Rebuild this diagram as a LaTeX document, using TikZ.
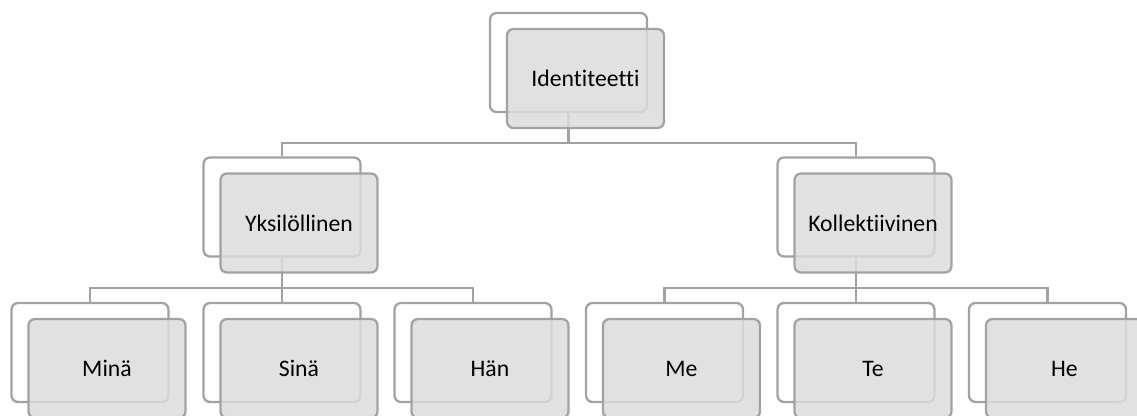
\documentclass[tikz,border=0pt]{standalone}
\usepackage{fontspec}
\setmainfont{Carlito}[RawFeature={-liga;-clig;-dlig}]
\usepackage{tikz}
\usetikzlibrary{calc,positioning}
\definecolor{frame}{HTML}{A2A2A2}
\definecolor{shade}{HTML}{DCDCDC}

\tikzset{
  backbox/.style={draw=frame,fill=white,line width=1.3pt,rounded corners=0.13cm,minimum width=3.14cm,minimum height=1.98cm,inner sep=0pt},
  frontbox/.style={draw=frame,fill=shade,fill opacity=0.85,text opacity=1,line width=1.3pt,rounded corners=0.13cm,minimum width=3.14cm,minimum height=1.98cm,inner sep=0pt,font=\fontsize{13.5}{16}\selectfont},
  link/.style={draw=frame,line width=1.3pt}
}

\begin{document}
\begin{tikzpicture}[x=0.02cm,y=-0.02cm]
  \useasboundingbox (0,0) rectangle (1137,416);
  % back frames
  \node[backbox] (identback) at (568.5,62.5) {};
  \node[backbox] (yksback) at (282,207) {};
  \node[backbox] (kollback) at (856,207) {};
  \node[backbox] (minaback) at (90,352.5) {};
  \node[backbox] (sinaback) at (282,352.5) {};
  \node[backbox] (hanback) at (473,352.5) {};
  \node[backbox] (meback) at (664.5,352.5) {};
  \node[backbox] (teback) at (856,352.5) {};
  \node[backbox] (heback) at (1047.5,352.5) {};
  % connectors
  \coordinate (busA) at (568.5,143);
  \coordinate (busB) at (282,288);
  \coordinate (busC) at (856,288);
  \draw[link] (identback.south) -- (busA);
  \draw[link] (yksback.north) |- (busA) -| (kollback.north);
  \draw[link] (yksback.south) -- (busB);
  \draw[link] (minaback.north) |- (busB) -| (hanback.north);
  \draw[link] (sinaback.north) -- (busB);
  \draw[link] (kollback.south) -- (busC);
  \draw[link] (meback.north) |- (busC) -| (heback.north);
  \draw[link] (teback.north) -- (busC);
  % front boxes
  \node[frontbox] (ident) at ($(identback)+(17,16)$) {Identiteetti};
  \node[frontbox] (yks) at ($(yksback)+(17,16)$) {Yksilöllinen};
  \node[frontbox] (koll) at ($(kollback)+(17,16)$) {Kollektiivinen};
  \node[frontbox] (mina) at ($(minaback)+(17,16)$) {Minä};
  \node[frontbox] (sina) at ($(sinaback)+(17,16)$) {Sinä};
  \node[frontbox] (han) at ($(hanback)+(17,16)$) {Hän};
  \node[frontbox] (me) at ($(meback)+(17,16)$) {Me};
  \node[frontbox] (te) at ($(teback)+(17,16)$) {Te};
  \node[frontbox] (he) at ($(heback)+(17,16)$) {He};
\end{tikzpicture}
\end{document}
